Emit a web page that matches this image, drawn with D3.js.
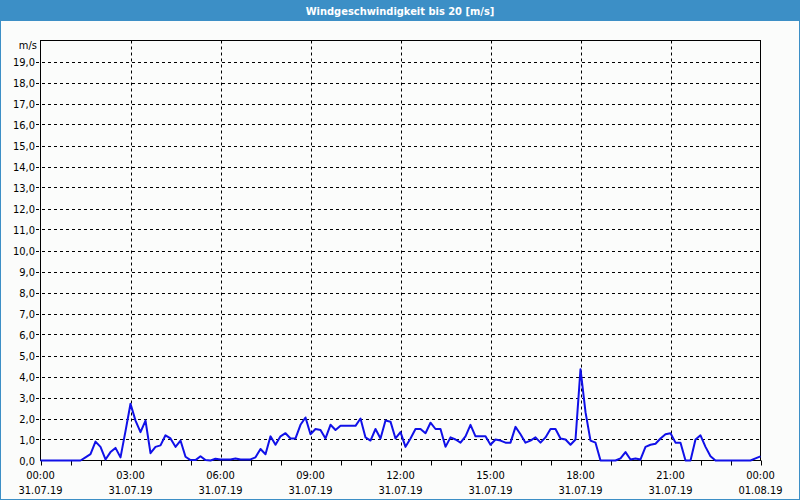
<!DOCTYPE html>
<html>
<head>
<meta charset="utf-8">
<script src="https://cdn.jsdelivr.net/npm/d3@7"></script>
<style>
  html, body { margin: 0; padding: 0; background: #fbfcfb; }
  svg { display: block; }
  text { font-family: "DejaVu Sans Condensed", Tahoma, "Liberation Sans", sans-serif; font-size: 11px; fill: #000; }
</style>
</head>
<body>
<script>
// ---- data ----
const title = "Windgeschwindigkeit bis 20 [m/s]";
const unitLabel = "m/s";
// 10-minute samples from 31.07.19 00:00 to 01.08.19 00:00 (145 values)
const windSpeed = [
  0, 0, 0, 0, 0, 0, 0, 0, 0, 0.15, 0.3, 0.9, 0.65, 0.05, 0.4, 0.6, 0.15, 1.4,
  2.7, 1.9, 1.35, 1.9, 0.35, 0.65, 0.72, 1.2, 1.05, 0.65, 0.95, 0.18, 0.02, 0.02, 0.2, 0.02, 0, 0.08,
  0.05, 0.05, 0.05, 0.1, 0.05, 0.05, 0.05, 0.15, 0.55, 0.3, 1.15, 0.75, 1.15, 1.3, 1.05, 1.05, 1.7, 2.05,
  1.25, 1.5, 1.45, 1.05, 1.7, 1.45, 1.65, 1.65, 1.65, 1.65, 2.0, 1.1, 0.95, 1.5, 1.05, 1.9, 1.85, 1.05,
  1.35, 0.65, 1.05, 1.5, 1.5, 1.3, 1.8, 1.5, 1.5, 0.65, 1.1, 1.0, 0.85, 1.15, 1.7, 1.15, 1.15, 1.15,
  0.75, 1.0, 0.95, 0.85, 0.85, 1.6, 1.25, 0.85, 0.95, 1.1, 0.85, 1.1, 1.5, 1.5, 1.05, 1.0, 0.75, 1.0,
  4.35, 2.3, 0.95, 0.85, 0, 0, 0, 0, 0.1, 0.4, 0.05, 0.1, 0.05, 0.65, 0.75, 0.8, 1.05, 1.25,
  1.3, 0.85, 0.85, 0, 0, 1.0, 1.2, 0.65, 0.2, 0, 0, 0, 0, 0, 0, 0, 0, 0.1,
  0.2
];
const xTickHours = [0, 3, 6, 9, 12, 15, 18, 21, 24];
const xTimeLabels = ["00:00", "03:00", "06:00", "09:00", "12:00", "15:00", "18:00", "21:00", "00:00"];
const xDateLabels = ["31.07.19", "31.07.19", "31.07.19", "31.07.19", "31.07.19", "31.07.19", "31.07.19", "31.07.19", "01.08.19"];
const yTicks = d3.range(0, 20);

// ---- layout ----
const W = 800, H = 500;
const L = 40.5, R = 760.5, T = 40.5, B = 460.5;
const svg = d3.select("body").append("svg").attr("width", W).attr("height", H);

svg.append("rect").attr("x", 0).attr("y", 0).attr("width", W).attr("height", H).attr("fill", "#fbfcfb");
svg.append("rect").attr("x", 0).attr("y", 0).attr("width", W).attr("height", 21).attr("fill", "#3c8fc6");
svg.append("rect").attr("x", 0.5).attr("y", 0.5).attr("width", W - 1).attr("height", H - 1)
  .attr("fill", "none").attr("stroke", "#3c8fc6");
svg.append("text").attr("x", W / 2).attr("y", 14.5).attr("text-anchor", "middle")
  .style("font-weight", "bold").style("fill", "#fff").text(title);

const x = d3.scaleLinear().domain([0, 24]).range([L, R]);
const y = d3.scaleLinear().domain([0, 20]).range([B, T]);

// grid
const g = svg.append("g");
g.selectAll("line.hg").data(yTicks.filter(v => v > 0)).enter().append("line")
  .attr("x1", 36).attr("x2", R).attr("y1", d => Math.round(y(d)) + 0.5).attr("y2", d => Math.round(y(d)) + 0.5)
  .attr("stroke", "#000").attr("stroke-dasharray", "3,3");
g.selectAll("line.vg").data(xTickHours.filter(h => h > 0 && h < 24)).enter().append("line")
  .attr("x1", d => Math.round(x(d)) + 0.5).attr("x2", d => Math.round(x(d)) + 0.5)
  .attr("y1", T).attr("y2", B)
  .attr("stroke", "#000").attr("stroke-dasharray", "3,3");

// hour ticks
g.selectAll("line.tk").data(d3.range(0, 25)).enter().append("line")
  .attr("x1", d => Math.round(x(d)) + 0.5).attr("x2", d => Math.round(x(d)) + 0.5)
  .attr("y1", B).attr("y2", B + 5).attr("stroke", "#000");

// frame
svg.append("rect").attr("x", L).attr("y", T).attr("width", R - L).attr("height", B - T)
  .attr("fill", "none").attr("stroke", "#000");

// y labels
svg.selectAll("text.yl").data(yTicks).enter().append("text")
  .attr("x", 35).attr("y", d => y(d) + 4).attr("text-anchor", "end")
  .text(d => d3.format(".1f")(d).replace(".", ","));
svg.append("text").attr("x", 37).attr("y", 49).attr("text-anchor", "end").text(unitLabel);

// x labels
svg.selectAll("text.xt").data(xTickHours).enter().append("text")
  .attr("x", d => x(d)).attr("y", 479).attr("text-anchor", "middle")
  .text((d, i) => xTimeLabels[i]);
svg.selectAll("text.xd").data(xTickHours).enter().append("text")
  .attr("x", d => x(d)).attr("y", 494).attr("text-anchor", "middle")
  .text((d, i) => xDateLabels[i]);

// line
const line = d3.line().x((d, i) => x(i / 6)).y(d => y(d));
svg.append("path").datum(windSpeed).attr("d", line)
  .attr("fill", "none").attr("stroke", "#1010e8").attr("stroke-width", 2).attr("stroke-linejoin", "round");
</script>
</body>
</html>
